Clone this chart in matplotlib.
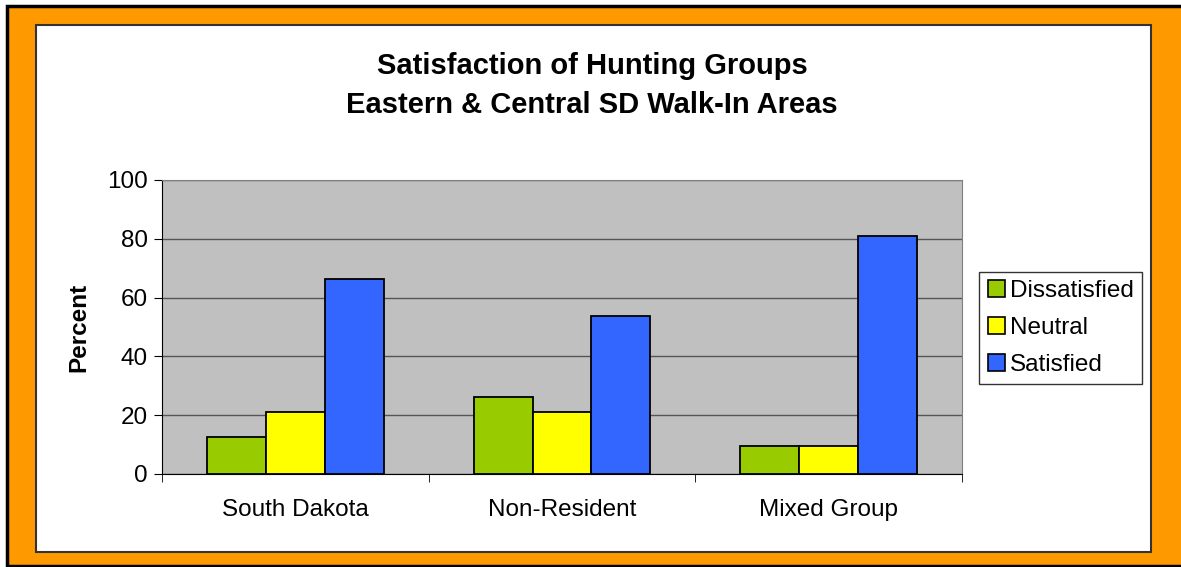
import numpy as np
import matplotlib.pyplot as plt
from matplotlib.patches import Rectangle, Patch

# data
groups = ["South Dakota", "Non-Resident", "Mixed Group"]
series = ["Dissatisfied", "Neutral", "Satisfied"]
dissatisfied = [12.7, 26.1, 9.5]
neutral = [21.0, 21.0, 9.5]
satisfied = [66.3, 53.6, 81.0]
colors = ["#99CC00", "#FFFF00", "#3366FF"]

W, H = 1181, 567
plt.rcParams['font.family'] = ['Liberation Sans', 'DejaVu Sans']
FS = 17.5

fig = plt.figure(figsize=(W / 100, H / 100), dpi=100)
fig.patch.set_facecolor("white")

def px(x0, y0, x1, y1):
    # pixel box (top-left origin) -> figure fraction
    return (x0 / W, 1 - y1 / H, (x1 - x0) / W, (y1 - y0) / H)

bx, by, bw, bh = px(7, 6, 1195, 566)
fig.patches.append(Rectangle((bx, by), bw, bh, transform=fig.transFigure,
                             facecolor="#FF9900", edgecolor="black", lw=2.5, zorder=0))
bx, by, bw, bh = px(36, 25, 1151, 552)
fig.patches.append(Rectangle((bx, by), bw, bh, transform=fig.transFigure,
                             facecolor="white", edgecolor="#333333", lw=1.5, zorder=1))

ax = fig.add_axes(px(162, 180, 962, 474))
ax.set_zorder(5)
ax.set_facecolor("#C0C0C0")

x = np.arange(len(groups))
bw = 0.221
vals = [dissatisfied, neutral, satisfied]
for i, (v, c) in enumerate(zip(vals, colors)):
    ax.bar(x + (i - 1) * bw, v, width=bw, color=c, edgecolor="black", lw=1.3, zorder=3)

ax.set_xlim(-0.5, 2.5)
ax.set_ylim(0, 100)
ax.set_yticks(range(0, 101, 20))
ax.yaxis.grid(True, color="#555555", lw=1, zorder=1)
ax.set_axisbelow(True)
ax.set_xticks(x)
ax.set_xticklabels(groups, fontsize=FS)
ax.set_xticks([-0.5, 0.5, 1.5, 2.5], minor=True)
ax.tick_params(axis="x", which="major", length=0, pad=18)
ax.tick_params(axis="x", which="minor", length=6, color="black")
ax.tick_params(axis="y", labelsize=FS, length=6, pad=4)
for s in ["left", "bottom"]:
    ax.spines[s].set_color("black")
for s in ["top", "right"]:
    ax.spines[s].set_color("#808080")
ax.set_ylabel("Percent", fontsize=FS, fontweight="bold", labelpad=12)

fig.text(592 / W, 1 - 66 / H, "Satisfaction of Hunting Groups", ha="center", va="center",
         fontsize=21, fontweight="bold")
fig.text(592 / W, 1 - 105 / H, "Eastern & Central SD Walk-In Areas", ha="center", va="center",
         fontsize=21, fontweight="bold")

handles = [Patch(facecolor=c, edgecolor="black", lw=1.2) for c in colors]
lx, ly, lw_, lh = px(978, 268, 1143, 388)
leg = fig.legend(handles, series, loc="center", bbox_to_anchor=(lx, ly, lw_, lh),
                 fontsize=FS, frameon=True, fancybox=False, handlelength=0.7,
                 handleheight=0.7, handletextpad=0.2, labelspacing=0.6,
                 borderpad=0.35, borderaxespad=0)
leg.set_zorder(6)
leg.get_frame().set_edgecolor("black")
leg.get_frame().set_linewidth(1)

fig.savefig("out.png", dpi=100, facecolor=fig.get_facecolor())
